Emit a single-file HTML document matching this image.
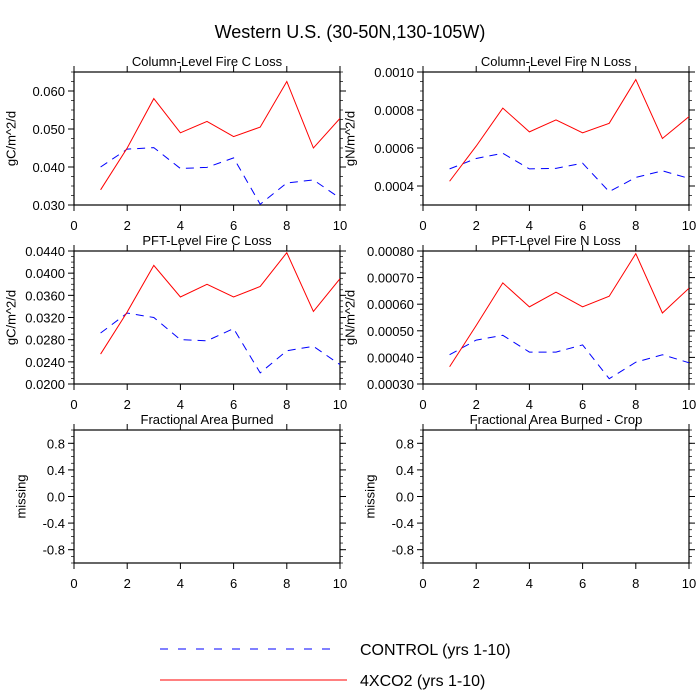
<!DOCTYPE html>
<html><head><meta charset="utf-8">
<style>
body{margin:0;background:#fff;}
svg{display:block;font-family:"Liberation Sans",sans-serif;}
</style></head>
<body>
<svg id="chart" width="700" height="700" viewBox="0 0 700 700">
<text x="350" y="38" text-anchor="middle" font-size="18">Western U.S. (30-50N,130-105W)</text>
<g>
<line x1="160" y1="649" x2="340" y2="649" stroke="#0000ff" stroke-width="1" stroke-dasharray="8,10"/>
<text x="360" y="655" font-size="16">CONTROL (yrs 1-10)</text>
<line x1="160" y1="680" x2="347" y2="680" stroke="#ff0000" stroke-width="1"/>
<text x="360" y="686" font-size="16">4XCO2 (yrs 1-10)</text>
</g>
</svg>
<script>
const years = [1,2,3,4,5,6,7,8,9,10];
const colCRed = [0.034,0.045,0.058,0.049,0.052,0.048,0.0505,0.0625,0.045,0.0528];
const colCBlue = [0.040,0.0447,0.0451,0.0396,0.0399,0.0424,0.0302,0.0358,0.0366,0.0318];
const colNRed = [0.000425,0.00061,0.00081,0.000685,0.000748,0.00068,0.00073,0.00096,0.00065,0.000765];
const colNBlue = [0.00049,0.000545,0.000572,0.00049,0.000493,0.00052,0.00037,0.000445,0.00048,0.00044];
const pftCRed = [0.0254,0.033,0.0414,0.0357,0.038,0.0357,0.0376,0.0437,0.0331,0.039];
const pftCBlue = [0.0292,0.0328,0.0320,0.0280,0.0278,0.0300,0.0220,0.0260,0.0268,0.0235];
const pftNRed = [0.000365,0.00052,0.00068,0.00059,0.000645,0.00059,0.00063,0.00079,0.000567,0.00066];
const pftNBlue = [0.00041,0.000465,0.000483,0.00042,0.00042,0.000447,0.00032,0.000382,0.00041,0.00038];
const xTicks = [0,2,4,6,8,10];
const colCTicks = ["0.030","0.040","0.050","0.060"];
const colNTicks = ["0.0004","0.0006","0.0008","0.0010"];
const pftCTicks = ["0.0200","0.0240","0.0280","0.0320","0.0360","0.0400","0.0440"];
const pftNTicks = ["0.00030","0.00040","0.00050","0.00060","0.00070","0.00080"];
const missTicks = ["-0.8","-0.4","0.0","0.4","0.8"];

const NS="http://www.w3.org/2000/svg";
const svg=document.getElementById('chart');
function el(tag,attrs,parent){const e=document.createElementNS(NS,tag);for(const k in attrs)e.setAttribute(k,attrs[k]);(parent||svg).appendChild(e);return e;}

const panels=[
 {name:'column-c',title:'Column-Level Fire C Loss',ylab:'gC/m^2/d',lx:11,x0:74,y0:72,w:266,h:133,ymin:0.030,ymax:0.065,ticks:colCTicks,minor:0.0025,red:colCRed,blue:colCBlue},
 {name:'column-n',title:'Column-Level Fire N Loss',ylab:'gN/m^2/d',lx:350,x0:423,y0:72,w:266,h:133,ymin:0.0003,ymax:0.0010,ticks:colNTicks,minor:0.00005,red:colNRed,blue:colNBlue},
 {name:'pft-c',title:'PFT-Level Fire C Loss',ylab:'gC/m^2/d',lx:11,x0:74,y0:251,w:266,h:133,ymin:0.020,ymax:0.044,ticks:pftCTicks,minor:0.001,red:pftCRed,blue:pftCBlue},
 {name:'pft-n',title:'PFT-Level Fire N Loss',ylab:'gN/m^2/d',lx:350,x0:423,y0:251,w:266,h:133,ymin:0.0003,ymax:0.0008,ticks:pftNTicks,minor:0.00002,red:pftNRed,blue:pftNBlue},
 {name:'area-burned',title:'Fractional Area Burned',ylab:'missing',lx:21,x0:74,y0:430,w:266,h:133,ymin:-1,ymax:1,ticks:missTicks,minor:0.1,red:null,blue:null},
 {name:'area-burned-crop',title:'Fractional Area Burned - Crop',ylab:'missing',lx:370,x0:423,y0:430,w:266,h:133,ymin:-1,ymax:1,ticks:missTicks,minor:0.1,red:null,blue:null}
];

panels.forEach(p=>{
 const g=el('g',{});
 
 
 const sx=v=>p.x0+v/10*p.w;
 const sy=v=>p.y0+p.h-(v-p.ymin)/(p.ymax-p.ymin)*p.h;
 const t=el('text',{x:p.x0+p.w/2,y:p.y0-6,'text-anchor':'middle','font-size':13},g);
 t.textContent=p.title;
 
 
 const nMin=Math.round((p.ymax-p.ymin)/p.minor);
 for(let i=0;i<=nMin;i++){const y=sy(p.ymin+i*p.minor);
  el('line',{x1:p.x0-3,x2:p.x0,y1:y,y2:y,stroke:'#000','stroke-width':0.7},g);
  el('line',{x1:p.x0+p.w,x2:p.x0+p.w+3,y1:y,y2:y,stroke:'#000','stroke-width':0.7},g);}
 p.ticks.forEach(s=>{const y=sy(parseFloat(s));
  el('line',{x1:p.x0-6,x2:p.x0,y1:y,y2:y,stroke:'#000','stroke-width':1},g);
  el('line',{x1:p.x0+p.w,x2:p.x0+p.w+6,y1:y,y2:y,stroke:'#000','stroke-width':1},g);
  const tl=el('text',{x:p.x0-9,y:y+5,'text-anchor':'end','font-size':13},g);
  tl.textContent=s;
  
  });
 xTicks.forEach(v=>{const x=sx(v);
  el('line',{x1:x,x2:x,y1:p.y0+p.h,y2:p.y0+p.h+6,stroke:'#000','stroke-width':1},g);
  el('line',{x1:x,x2:x,y1:p.y0-6,y2:p.y0,stroke:'#000','stroke-width':1},g);
  const tl=el('text',{x:x,y:p.y0+p.h+25,'text-anchor':'middle','font-size':13},g);
  tl.textContent=v;
  
  });
 el('rect',{x:p.x0,y:p.y0,width:p.w,height:p.h,fill:'none',stroke:'#000','stroke-width':1.2},g);
 const yl=el('text',{x:0,y:0,'text-anchor':'middle','dominant-baseline':'central','font-size':13,transform:`translate(${p.lx},${p.y0+p.h/2}) rotate(-90)`},g);
 yl.textContent=p.ylab;
 
 
 const clip=el('clipPath',{id:'c-'+p.name},g);
 el('rect',{x:p.x0,y:p.y0,width:p.w,height:p.h},clip);
 if(p.blue){
  const bl=el('polyline',{points:years.map((x,i)=>sx(x)+','+sy(p.blue[i])).join(' '),fill:'none',stroke:'#0000ff','stroke-width':1,'stroke-dasharray':'8,6','clip-path':`url(#c-${p.name})`},g);
  
  
 }
 if(p.red){
  const rl=el('polyline',{points:years.map((x,i)=>sx(x)+','+sy(p.red[i])).join(' '),fill:'none',stroke:'#ff0000','stroke-width':1,'clip-path':`url(#c-${p.name})`},g);
  
  
 }
});
</script>
</body></html>
